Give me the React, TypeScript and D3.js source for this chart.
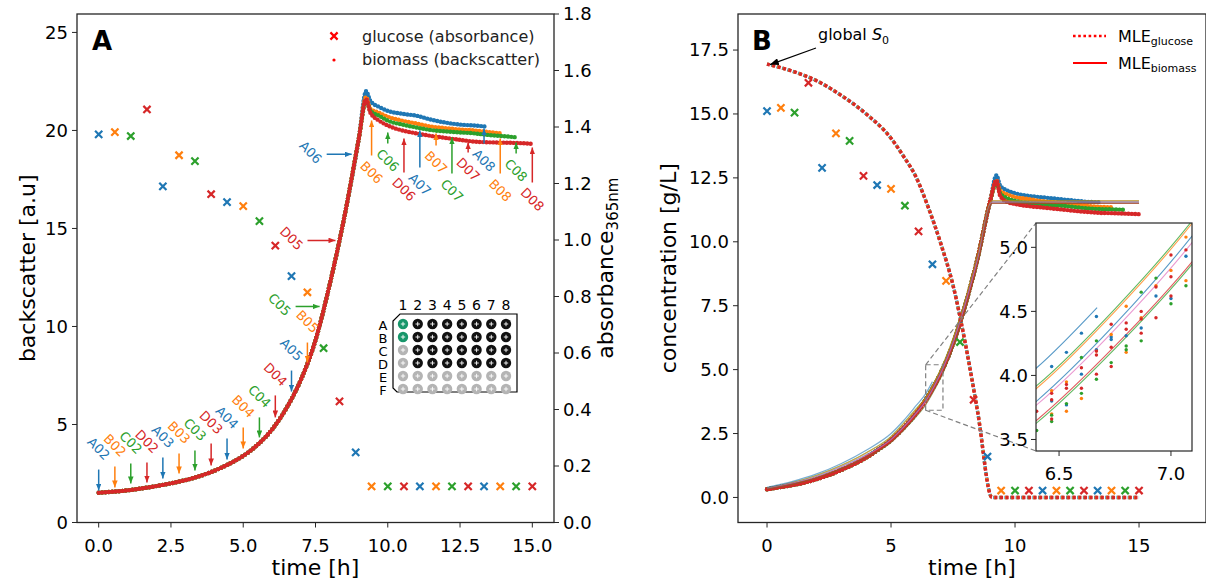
import React from 'react';
import * as d3 from 'd3';

const FONT = 'DejaVu Sans, Verdana, sans-serif';
const rowColor: Record<string, string> = { A: '#1f77b4', B: '#ff7f0e', C: '#2ca02c', D: '#d62728' };

// sampled wells, in sampling order
const wells = ['A02', 'B02', 'C02', 'D02', 'A03', 'B03', 'C03', 'D03', 'A04', 'B04', 'C04', 'D04', 'A05', 'B05',
  'C05', 'D05', 'A06', 'B06', 'C06', 'D06', 'A07', 'B07', 'C07', 'D07', 'A08', 'B08', 'C08', 'D08'];
const sampleTime = [0, 0.56, 1.11, 1.67, 2.22, 2.78, 3.33, 3.89, 4.44, 5.0, 5.56, 6.11, 6.67, 7.22,
  7.78, 8.33, 8.89, 9.44, 10.0, 10.56, 11.11, 11.67, 12.22, 12.78, 13.33, 13.89, 14.44, 15.0];
const glucoseAbs = [1.374, 1.382, 1.368, 1.462, 1.19, 1.30, 1.279, 1.162, 1.134, 1.12, 1.067, 0.98, 0.872, 0.815,
  0.617, 0.429, 0.248, 0.128, 0.128, 0.128, 0.128, 0.128, 0.128, 0.128, 0.128, 0.128, 0.128, 0.128];
const glucoseConc = [15.11, 15.24, 15.05, 16.22, 12.89, 14.24, 13.95, 12.58, 12.22, 12.07, 11.41, 10.41, 9.12, 8.47,
  6.08, 3.82, 1.6, 0.27, 0.27, 0.27, 0.27, 0.27, 0.27, 0.27, 0.27, 0.27, 0.27, 0.27];
// backscatter value at each arrow tip
const arrowTip = [1.63, 1.79, 1.99, 2.04, 2.24, 2.5, 2.65, 2.91, 3.21, 3.78, 4.34, 5.36, 6.68, 8.16,
  11.02, 14.39, 18.78, 20.51, 19.9, 19.59, 20.0, 19.85, 19.64, 19.39, 20.1, 19.59, 19.39, 19.13];
const arrowDir = ['d', 'd', 'd', 'd', 'd', 'd', 'd', 'd', 'd', 'd', 'd', 'd', 'd', 'd',
  'r', 'r', 'r', 'u', 'u', 'u', 'u', 'u', 'u', 'u', 'u', 'u', 'u', 'u'];
const arrowLen = [21, 21, 20, 20, 21, 20, 20, 22, 21, 21, 20, 22, 21, 20,
  24, 28, 25, 35, 11, 34, 37, 12, 36, 10, 15, 35, 11, 35];

// backscatter (left panel)
const growthTime = [0, 0.5, 1, 1.5, 2, 2.5, 3, 3.5, 4, 4.5, 5, 5.5, 6, 6.5, 7, 7.5, 8, 8.5, 9];
const postTime = [9.25, 9.4, 9.7, 10, 10.5, 11, 11.5, 12, 12.5, 13, 13.4, 13.9, 14.45, 15];
const bsGrowth = [1.52, 1.57, 1.64, 1.74, 1.86, 2.0, 2.16, 2.37, 2.64, 2.98, 3.4, 3.97, 4.75, 5.85, 7.3, 9.3, 12.2, 15.6, 19.6];
const bsPostA = [22.0, 21.5, 21.2, 21.0, 20.85, 20.75, 20.55, 20.4, 20.3, 20.25, 20.2];
const bsPostB = [21.7, 21.1, 20.9, 20.7, 20.5, 20.35, 20.2, 20.12, 20.05, 20.0, 19.93, 19.85];
const bsPostC = [21.5, 21.0, 20.75, 20.5, 20.3, 20.15, 20.02, 19.95, 19.9, 19.85, 19.78, 19.72, 19.65];
const bsPostD = [21.6, 20.9, 20.5, 20.25, 20.0, 19.85, 19.72, 19.62, 19.52, 19.43, 19.4, 19.38, 19.36, 19.32];

// biomass concentration (right panel)
const bmGrowth = [0.32, 0.4, 0.48, 0.58, 0.72, 0.88, 1.08, 1.3, 1.56, 1.88, 2.25, 2.72, 3.28, 3.98, 4.85, 6.0, 7.55, 9.4, 11.6];
const bmPostA = [12.6, 12.2, 12.0, 11.9, 11.8, 11.75, 11.7, 11.65, 11.6, 11.56, 11.55];
const bmPostB = [12.4, 12.0, 11.85, 11.75, 11.68, 11.6, 11.55, 11.5, 11.45, 11.4, 11.37, 11.35];
const bmPostC = [12.3, 11.9, 11.7, 11.6, 11.52, 11.47, 11.43, 11.4, 11.35, 11.3, 11.28, 11.27, 11.25];
const bmPostD = [12.4, 11.8, 11.55, 11.48, 11.4, 11.35, 11.3, 11.25, 11.2, 11.16, 11.13, 11.12, 11.1, 11.08];

// MLE biomass fits
const fitTime = [0, 1, 2, 3, 4, 5, 5.5, 6, 6.4, 6.75, 7.1, 7.5, 8, 8.5, 9.07, 15];
const fitUpperB = [0.37, 0.58, 0.86, 1.25, 1.74, 2.37, 2.88, 3.43, 3.9, 4.5, 5.2, 6.2, 7.75, 9.5, 11.6, 11.6];
const fitUpperC = [0.37, 0.58, 0.87, 1.26, 1.75, 2.39, 2.9, 3.45, 3.92, 4.52, 5.22, 6.22, 7.77, 9.52, 11.6, 11.6];
const fitMidA = [0.35, 0.55, 0.82, 1.2, 1.67, 2.28, 2.76, 3.3, 3.8, 4.4, 5.1, 6.07, 7.62, 9.37, 11.55, 11.55];
const fitMidD = [0.35, 0.55, 0.81, 1.19, 1.65, 2.26, 2.74, 3.28, 3.77, 4.36, 5.05, 6.03, 7.58, 9.33, 11.55, 11.55];
const fitLowD = [0.33, 0.52, 0.78, 1.14, 1.58, 2.16, 2.63, 3.16, 3.65, 4.23, 4.9, 5.86, 7.4, 9.15, 11.5, 11.5];
const fitLowC = [0.33, 0.51, 0.77, 1.13, 1.57, 2.15, 2.62, 3.14, 3.63, 4.21, 4.88, 5.84, 7.38, 9.13, 11.5, 11.5];
const fitA05Time = [0, 1, 2, 3, 4, 5, 5.5, 6, 6.4, 6.67];
const fitA05 = [0.4, 0.62, 0.92, 1.33, 1.85, 2.5, 3.0, 3.58, 4.06, 4.53];

// MLE glucose fit
const glcTime = [0, 1, 2, 3, 4, 5, 5.5, 6, 6.5, 7, 7.5, 8, 8.5, 9.07, 15];
const glcFit = [16.95, 16.68, 16.3, 15.72, 15.0, 14.05, 13.35, 12.55, 11.35, 9.95, 8.3, 6.0, 3.3, 0, 0];

// inset: biomass measurements around t = 6.4 .. 7.1
const insetTime = [6.4, 6.467, 6.533, 6.6, 6.667, 6.733, 6.8, 6.867, 6.933, 7.0, 7.067];
const insetA = [[], [4.07, 3.8], [4.18, 3.77], [4.33, 4.01], [4.46, 4.2], [4.28, 4.3], [4.31], [4.37], [4.62], [4.6], [4.93]];
const insetB = [[], [3.88, 3.7], [3.95, 3.72], [3.82], [4.19], [4.32], [4.54, 4.18], [4.45], [4.7], [4.82], [5.08, 4.74]];
const insetC = [[3.57], [3.69, 3.64], [3.78], [4.14, 3.86], [4.27, 3.97], [4.1], [4.23, 4.2], [4.65, 4.27], [4.76], [4.56], [4.7]];
const insetD = [[3.72], [3.86, 3.81, 3.66], [3.93, 3.9], [4.06, 3.9], [4.19, 4.16, 4.01], [4.4, 4.22, 4.07], [4.41, 4.36],
  [4.5, 4.44, 4.33], [4.69, 4.45], [4.94, 4.77, 4.62], [4.98]];

// plate layout
const plateCols = ['1', '2', '3', '4', '5', '6', '7', '8'];
const plateRows = ['A', 'B', 'C', 'D', 'E', 'F'];
const plateMap = ['gkkkkkkk', 'gkkkkkkk', 'lkkkkkkk', 'lkkkkkkk', 'llllllll', 'llllllll'];

const leftXTicks = [0, 2.5, 5, 7.5, 10, 12.5, 15];
const leftYTicks = [0, 5, 10, 15, 20, 25];
const absTicks = [0, 0.2, 0.4, 0.6, 0.8, 1.0, 1.2, 1.4, 1.6, 1.8];
const rightXTicks = [0, 5, 10, 15];
const rightYTicks = [0, 2.5, 5, 7.5, 10, 12.5, 15, 17.5];
const insetXTicks = [6.5, 7.0];
const insetYTicks = [3.5, 4.0, 4.5, 5.0];

type P = [number, number];
const zip = (t: number[], v: number[]): P[] => v.map((y, i) => [t[i], y]);

const crossPath = (s: number) => `M${-s},${-s}L${s},${s}M${-s},${s}L${s},${-s}`;

const App = () => {
  // left panel
  const L = { x0: 77, x1: 554, y0: 14, y1: 522.5 };
  const xL = d3.scaleLinear().domain([-0.75, 15.75]).range([L.x0, L.x1]);
  const yL = d3.scaleLinear().domain([0, 25.94]).range([L.y1, L.y0]);
  const yA = d3.scaleLinear().domain([0, 1.8]).range([L.y1, L.y0]);
  // right panel
  const R = { x0: 738, x1: 1206, y0: 14, y1: 522.5 };
  const xR = d3.scaleLinear().domain([-1.17, 17.7]).range([R.x0, R.x1]);
  const yC = d3.scaleLinear().domain([-0.98, 18.91]).range([R.y1, R.y0]);
  // inset
  const I = { x0: 1036, x1: 1192, y0: 223, y1: 451 };
  const xI = d3.scaleLinear().domain([6.397, 7.094]).range([I.x0, I.x1]);
  const yI = d3.scaleLinear().domain([3.41, 5.19]).range([I.y1, I.y0]);

  const lineL = d3.line<P>().x(d => xL(d[0])).y(d => yL(d[1])).curve(d3.curveMonotoneX);
  const lineR = d3.line<P>().x(d => xR(d[0])).y(d => yC(d[1])).curve(d3.curveMonotoneX);
  const lineI = d3.line<P>().x(d => xI(d[0])).y(d => yI(d[1])).curve(d3.curveMonotoneX);

  const bsRows: [string, number[]][] = [['A', bsPostA], ['B', bsPostB], ['C', bsPostC], ['D', bsPostD]];
  const bmRows: [string, number[]][] = [['A', bmPostA], ['B', bmPostB], ['C', bmPostC], ['D', bmPostD]];
  const rowSeries = (post: number[], growth: number[]) =>
    zip(growthTime, growth).concat(zip(postTime, post));

  const fits: [string, number[], number[]][] = [
    [rowColor.C, fitTime, fitUpperC], [rowColor.B, fitTime, fitUpperB], [rowColor.A, fitTime, fitMidA],
    ['#e377c2', fitTime, fitMidD], [rowColor.C, fitTime, fitLowC], [rowColor.D, fitTime, fitLowD],
    [rowColor.A, fitA05Time, fitA05],
  ];
  const insetRows: [string, number[][]][] = [['A', insetA], ['B', insetB], ['C', insetC], ['D', insetD]];

  const plateX = d3.scalePoint<string>().domain(plateCols).range([403, 506]);
  const plateY = d3.scalePoint<string>().domain(plateRows).range([324, 389]);
  const plateFill: Record<string, string> = { g: '#17966a', k: '#111111', l: '#b4b4b4' };

  const tickFont = 18;
  const axisColor = '#262626';

  const glcLine = lineR(zip(glcTime, glcFit)) || '';
  const glcLineI = lineI(zip(glcTime, glcFit)) || '';

  return (
    <svg width={1206} height={581} style={{ position: 'absolute', left: 0, top: 0, background: '#fff' }}
      fontFamily={FONT}>
      <defs>
        {Object.entries(rowColor).map(([k, c]) => (
          <marker key={k} id={`ah${k}`} viewBox="0 0 10 8" refX={10} refY={4} markerWidth={7} markerHeight={5.6}
            markerUnits="userSpaceOnUse" orient="auto">
            <path d="M0,0L10,4L0,8z" fill={c} />
          </marker>
        ))}
        <marker id="ahK" viewBox="0 0 10 8" refX={10} refY={4} markerWidth={9} markerHeight={7}
          markerUnits="userSpaceOnUse" orient="auto">
          <path d="M0,0L10,4L0,8z" fill="#000" />
        </marker>
        <clipPath id="clipL"><rect x={L.x0} y={L.y0} width={L.x1 - L.x0} height={L.y1 - L.y0} /></clipPath>
        <clipPath id="clipR"><rect x={R.x0} y={R.y0} width={R.x1 - R.x0} height={R.y1 - R.y0} /></clipPath>
        <clipPath id="clipI"><rect x={I.x0} y={I.y0} width={I.x1 - I.x0} height={I.y1 - I.y0} /></clipPath>
      </defs>

      {/* ---------------- panel A ---------------- */}
      <g clipPath="url(#clipL)">
        {sampleTime.map((t, i) => (
          <path key={'gx' + i} d={crossPath(3.6)} transform={`translate(${xL(t)},${yA(glucoseAbs[i])})`}
            stroke={rowColor[wells[i][0]]} strokeWidth={2.2} fill="none" />
        ))}
        {bsRows.map(([k, post]) => (
          <path key={'bs' + k} d={lineL(rowSeries(post, bsGrowth)) || ''} fill="none" stroke={rowColor[k]}
            strokeWidth={4.4} strokeLinecap="round" strokeDasharray="0 3.4" />
        ))}
        {wells.map((w, i) => {
          const c = rowColor[w[0]];
          const dir = arrowDir[i];
          const tx = xL(sampleTime[i]) - (dir === 'r' ? 4 : 0);
          const ty = yL(arrowTip[i]);
          const len = arrowLen[i];
          let sx = tx, sy = ty, lx = tx, ly = ty;
          if (dir === 'd') { sy = ty - len; ly = sy - 21; }
          else if (dir === 'u') { sy = ty + len; ly = sy + 17; }
          else { sx = tx - len; lx = sx - 16; ly = ty - 2; }
          return (
            <g key={w}>
              <line x1={sx} y1={sy} x2={tx} y2={ty} stroke={c} strokeWidth={1.5} markerEnd={`url(#ah${w[0]})`} />
              <text x={lx} y={ly} transform={`rotate(45 ${lx} ${ly})`} textAnchor="middle" dy="0.35em"
                fill={c} fontSize={13}>{w}</text>
            </g>
          );
        })}
      </g>

      {/* plate layout */}
      <g>
        <path d="M400,314L517,314L517,392L397,392L393,388L393,321Z" fill="#fff" stroke="#000" strokeWidth={1.2} />
        {plateCols.map(c => (
          <text key={'pc' + c} x={plateX(c)} y={310} textAnchor="middle" fontSize={14}>{c}</text>
        ))}
        {plateRows.map(r => (
          <text key={'pr' + r} x={383} y={(plateY(r) || 0) + 1} textAnchor="middle" dy="0.35em" fontSize={13}>{r}</text>
        ))}
        {plateRows.map((r, j) => plateCols.map((c, i) => {
          const cx = plateX(c) || 0, cy = plateY(r) || 0;
          return (
            <g key={r + c}>
              <circle cx={cx} cy={cy} r={5.2} fill={plateFill[plateMap[j][i]]} />
              <path d={`M${cx - 2.2},${cy}H${cx + 2.2}M${cx},${cy - 2.2}V${cy + 2.2}`} stroke="#fff" strokeWidth={0.9} />
            </g>
          );
        }))}
      </g>

      {/* legend A */}
      <path d={crossPath(3.6)} transform="translate(334,36)" stroke="red" strokeWidth={2.2} fill="none" />
      <text x={362} y={41.5} fontSize={16} fill="#222">glucose (absorbance)</text>
      <circle cx={334} cy={60} r={1.6} fill="red" />
      <text x={362} y={64.5} fontSize={16} fill="#222">biomass (backscatter)</text>
      <text x={92} y={50} fontSize={26} fontWeight="bold">A</text>

      {/* axes A */}
      <rect x={L.x0} y={L.y0} width={L.x1 - L.x0} height={L.y1 - L.y0} fill="none" stroke={axisColor} strokeWidth={1.3} />
      {leftXTicks.map(t => (
        <g key={'lx' + t}>
          <line x1={xL(t)} x2={xL(t)} y1={L.y1} y2={L.y1 + 5} stroke={axisColor} />
          <text x={xL(t)} y={552} textAnchor="middle" fontSize={tickFont}>{t.toFixed(1)}</text>
        </g>
      ))}
      {leftYTicks.map(v => (
        <g key={'ly' + v}>
          <line x1={L.x0 - 5} x2={L.x0} y1={yL(v)} y2={yL(v)} stroke={axisColor} />
          <text x={L.x0 - 9} y={yL(v)} dy="0.35em" textAnchor="end" fontSize={tickFont}>{v}</text>
        </g>
      ))}
      {absTicks.map(v => (
        <g key={'ay' + v}>
          <line x1={L.x1} x2={L.x1 + 5} y1={yA(v)} y2={yA(v)} stroke={axisColor} />
          <text x={L.x1 + 9} y={yA(v)} dy="0.35em" textAnchor="start" fontSize={tickFont}>{v.toFixed(1)}</text>
        </g>
      ))}
      <text x={(L.x0 + L.x1) / 2} y={575} textAnchor="middle" fontSize={22}>time [h]</text>
      <text transform={`translate(35,${(L.y0 + L.y1) / 2}) rotate(-90)`} textAnchor="middle" fontSize={22}>backscatter [a.u]</text>
      <text transform={`translate(613,${(L.y0 + L.y1) / 2}) rotate(-90)`} textAnchor="middle" fontSize={22}>
        absorbance<tspan fontSize={15} dy={5}>365nm</tspan>
      </text>

      {/* ---------------- panel B ---------------- */}
      <g clipPath="url(#clipR)">
        {bmRows.map(([k, post]) => (
          <path key={'bm' + k} d={lineR(rowSeries(post, bmGrowth)) || ''} fill="none" stroke={rowColor[k]}
            strokeWidth={4.4} strokeLinecap="round" strokeDasharray="0 3.4" />
        ))}
        {fits.map(([c, t, v], i) => (
          <path key={'fit' + i} d={lineR(zip(t, v)) || ''} fill="none" stroke={c} strokeWidth={1.2} strokeOpacity={0.6} />
        ))}
        <path d={glcLine} fill="none" stroke={rowColor.A} strokeWidth={3.4} strokeDasharray="3 2.6" strokeDashoffset={1.2} />
        <path d={glcLine} fill="none" stroke={rowColor.B} strokeWidth={3.4} strokeDasharray="3 2.6" strokeDashoffset={0.6} />
        <path d={glcLine} fill="none" stroke={rowColor.D} strokeWidth={3.4} strokeDasharray="3 2.6" />
        {sampleTime.map((t, i) => (
          <path key={'cx' + i} d={crossPath(3.6)} transform={`translate(${xR(t)},${yC(glucoseConc[i])})`}
            stroke={rowColor[wells[i][0]]} strokeWidth={2.2} fill="none" />
        ))}
      </g>

      {/* zoom indicator */}
      <g stroke="#808080" strokeWidth={1.2} strokeDasharray="5 3" fill="none">
        <rect x={xR(6.397)} y={yC(5.19)} width={xR(7.094) - xR(6.397)} height={yC(3.41) - yC(5.19)} />
        <line x1={xR(6.397)} y1={yC(5.19)} x2={I.x0} y2={I.y0} />
        <line x1={xR(6.397)} y1={yC(3.41)} x2={I.x0} y2={I.y1} />
      </g>

      {/* inset */}
      <rect x={I.x0} y={I.y0} width={I.x1 - I.x0} height={I.y1 - I.y0} fill="#fff" />
      <g clipPath="url(#clipI)">
        {fits.map(([c, t, v], i) => (
          <path key={'ifit' + i} d={lineI(zip(t, v)) || ''} fill="none" stroke={c} strokeWidth={1.1} strokeOpacity={0.75} />
        ))}
        <path d={glcLineI} fill="none" stroke={rowColor.D} strokeWidth={3} strokeDasharray="3 2.6" />
        {insetRows.map(([k, cols]) => cols.map((vals, i) => vals.map((v, j) => (
          <circle key={k + i + '-' + j} cx={xI(insetTime[i])} cy={yI(v)} r={1.7} fill={rowColor[k]} />
        ))))}
      </g>
      <rect x={I.x0} y={I.y0} width={I.x1 - I.x0} height={I.y1 - I.y0} fill="none" stroke={axisColor} strokeWidth={1.2} />
      {insetXTicks.map(t => (
        <g key={'ix' + t}>
          <line x1={xI(t)} x2={xI(t)} y1={I.y1} y2={I.y1 + 5} stroke={axisColor} />
          <text x={xI(t)} y={480} textAnchor="middle" fontSize={tickFont}>{t.toFixed(1)}</text>
        </g>
      ))}
      {insetYTicks.map(v => (
        <g key={'iy' + v}>
          <line x1={I.x0 - 5} x2={I.x0} y1={yI(v)} y2={yI(v)} stroke={axisColor} />
          <text x={I.x0 - 8} y={yI(v)} dy="0.35em" textAnchor="end" fontSize={tickFont}>{v.toFixed(1)}</text>
        </g>
      ))}

      {/* annotations B */}
      <text x={752} y={50} fontSize={26} fontWeight="bold">B</text>
      <text x={818} y={40} fontSize={16}>global <tspan fontStyle="italic">S</tspan><tspan fontSize={11} dy={4}>0</tspan></text>
      <line x1={816} y1={48} x2={xR(0) + 3} y2={yC(glcFit[0]) + 0.5} stroke="#000" strokeWidth={1.2} markerEnd="url(#ahK)" />

      {/* legend B */}
      <line x1={1073} x2={1106} y1={36} y2={36} stroke="red" strokeWidth={2.6} strokeDasharray="2.6 2.6" />
      <text x={1118} y={42} fontSize={16}>MLE<tspan fontSize={11} dy={3}>glucose</tspan></text>
      <line x1={1073} x2={1107} y1={63} y2={63} stroke="red" strokeWidth={2} />
      <text x={1118} y={69} fontSize={16}>MLE<tspan fontSize={11} dy={3}>biomass</tspan></text>

      {/* axes B */}
      <rect x={R.x0} y={R.y0} width={R.x1 - R.x0} height={R.y1 - R.y0} fill="none" stroke={axisColor} strokeWidth={1.3} />
      {rightXTicks.map(t => (
        <g key={'rx' + t}>
          <line x1={xR(t)} x2={xR(t)} y1={R.y1} y2={R.y1 + 5} stroke={axisColor} />
          <text x={xR(t)} y={552} textAnchor="middle" fontSize={tickFont}>{t}</text>
        </g>
      ))}
      {rightYTicks.map(v => (
        <g key={'ry' + v}>
          <line x1={R.x0 - 5} x2={R.x0} y1={yC(v)} y2={yC(v)} stroke={axisColor} />
          <text x={R.x0 - 9} y={yC(v)} dy="0.35em" textAnchor="end" fontSize={tickFont}>{v.toFixed(1)}</text>
        </g>
      ))}
      <text x={(R.x0 + R.x1) / 2} y={575} textAnchor="middle" fontSize={22}>time [h]</text>
      <text transform={`translate(676,${(R.y0 + R.y1) / 2}) rotate(-90)`} textAnchor="middle" fontSize={22}>concentration [g/L]</text>
    </svg>
  );
};

export default App;
